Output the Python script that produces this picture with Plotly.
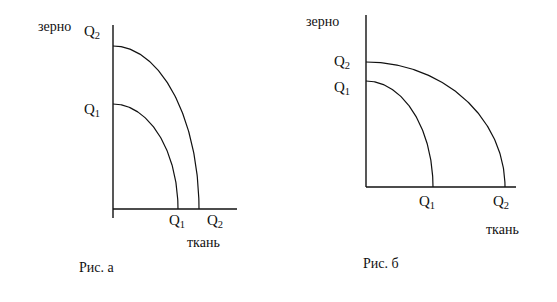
import numpy as np
import plotly.graph_objects as go

# ---- data (units: intercepts of production possibility curves) ----
panels = ["a", "b"]
grain_Q1 = [10.5, 10.6]   # зерно intercepts, curve Q1
grain_Q2 = [16.3, 12.5]   # зерно intercepts, curve Q2
cloth_Q1 = [6.5, 6.7]     # ткань intercepts, curve Q1
cloth_Q2 = [8.6, 13.9]    # ткань intercepts, curve Q2
yaxis_top = [18.4, 17.2]
yaxis_bottom = [-0.9, 0.0]
xaxis_end = [12.4, 16.2]
captions = ["Рис. а", "Рис. б"]

W, H = 557, 302
PX = 10.0  # pixels per unit
origins = [(113, 209), (366, 187)]  # pixel origins of each panel

FONT = "Liberation Serif"
INK = "#111111"

fig = go.Figure()
t = np.linspace(0, np.pi / 2, 120)

layout_axes = {}
for i in range(2):
    xr = "x" if i == 0 else "x2"
    yr = "y" if i == 0 else "y2"
    ox, oy = origins[i]
    px0, px1 = (ox - 110, ox + 150)
    py0, py1 = (10, 290)
    xdom = [px0 / W, px1 / W]
    ydom = [(H - py1) / H, (H - py0) / H]
    xrange = [(px0 - ox) / PX, (px1 - ox) / PX]
    yrange = [(oy - py1) / PX, (oy - py0) / PX]
    ax = dict(domain=xdom, range=xrange, visible=False, fixedrange=True)
    ay = dict(domain=ydom, range=yrange, visible=False, fixedrange=True)
    if i == 0:
        layout_axes["xaxis"] = dict(ax, anchor="y")
        layout_axes["yaxis"] = dict(ay, anchor="x")
    else:
        layout_axes["xaxis2"] = dict(ax, anchor="y2")
        layout_axes["yaxis2"] = dict(ay, anchor="x2")

    fig.add_trace(go.Scatter(x=[0, 0], y=[yaxis_bottom[i], yaxis_top[i]], mode="lines",
                             line=dict(color=INK, width=1.4), xaxis=xr, yaxis=yr,
                             showlegend=False, hoverinfo="skip"))
    fig.add_trace(go.Scatter(x=[0, xaxis_end[i]], y=[0, 0], mode="lines",
                             line=dict(color=INK, width=1.4), xaxis=xr, yaxis=yr,
                             showlegend=False, hoverinfo="skip"))
    for cx, gy in [(cloth_Q1[i], grain_Q1[i]), (cloth_Q2[i], grain_Q2[i])]:
        fig.add_trace(go.Scatter(x=cx * np.sin(t), y=gy * np.cos(t), mode="lines",
                                 line=dict(color=INK, width=1.2), xaxis=xr, yaxis=yr,
                                 showlegend=False, hoverinfo="skip"))

fig.update_layout(**layout_axes)

ann = []
def A(text, x, y, xr, yr, size=15, xshift=0, yshift=0):
    ann.append(dict(text=text, x=x, y=y, xref=xr, yref=yr, showarrow=False,
                    xanchor="center", yanchor="middle", xshift=xshift, yshift=yshift,
                    font=dict(family=FONT, size=size, color=INK)))

# panel a
A("Q<sub>2</sub>", 0, grain_Q2[0], "x", "y", xshift=-21, yshift=14)
A("Q<sub>1</sub>", 0, grain_Q1[0], "x", "y", xshift=-21, yshift=-6)
A("Q<sub>1</sub>", cloth_Q1[0], 0, "x", "y", xshift=-1, yshift=-12)
A("Q<sub>2</sub>", cloth_Q2[0], 0, "x", "y", xshift=16, yshift=-12)
A("ткань", cloth_Q2[0], 0, "x", "y", size=14, xshift=4, yshift=-34)
A("зерно", 0, yaxis_top[0], "x", "y", size=14, xshift=-59, yshift=-2)
A(captions[0], 0, 0, "x", "y", size=14, xshift=-17, yshift=-58)
# panel b
A("Q<sub>2</sub>", 0, grain_Q2[1], "x2", "y2", xshift=-24, yshift=0)
A("Q<sub>1</sub>", 0, grain_Q1[1], "x2", "y2", xshift=-24, yshift=-7)
A("Q<sub>1</sub>", cloth_Q1[1], 0, "x2", "y2", xshift=-6, yshift=-15)
A("Q<sub>2</sub>", cloth_Q2[1], 0, "x2", "y2", xshift=-4, yshift=-15)
A("ткань", cloth_Q2[1], 0, "x2", "y2", size=14, xshift=-3, yshift=-43)
A("зерно", 0, yaxis_top[1], "x2", "y2", size=14, xshift=-44, yshift=-7)
A(captions[1], 0, 0, "x2", "y2", size=14, xshift=15, yshift=-76)

fig.update_layout(width=W, height=H, margin=dict(l=0, r=0, t=0, b=0),
                  paper_bgcolor="white", plot_bgcolor="white", annotations=ann)
fig.write_html("out.html")
